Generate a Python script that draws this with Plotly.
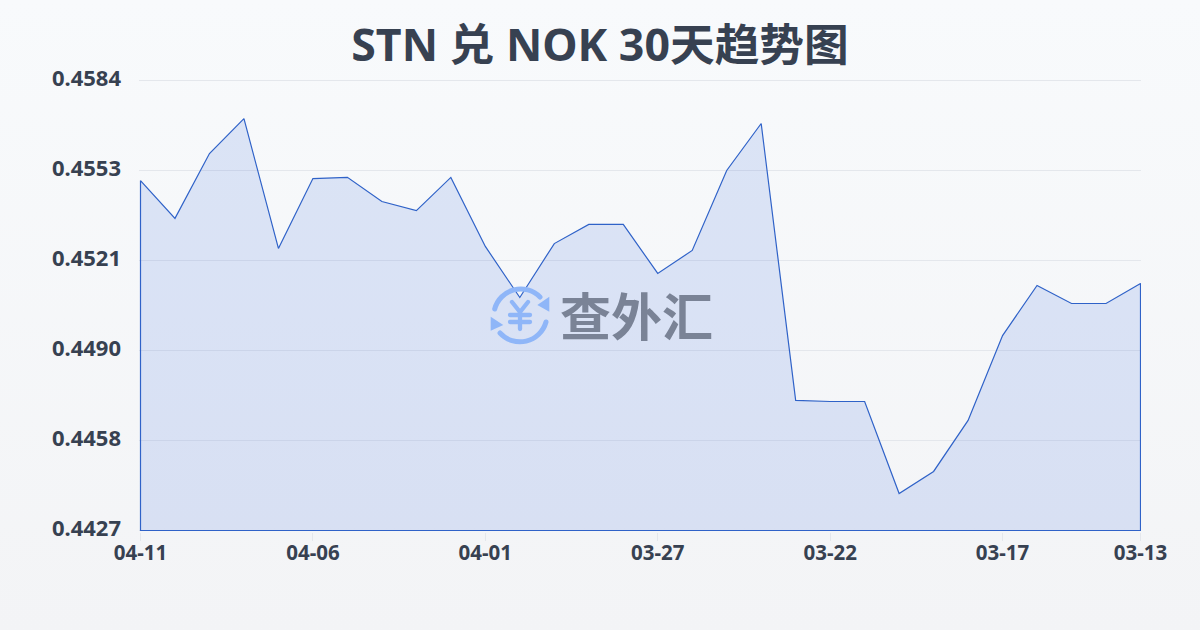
import base64
import plotly.graph_objects as go

dates = ["04-11","04-10","04-09","04-08","04-07","04-06","04-05","04-04","04-03","04-02",
         "04-01","03-31","03-30","03-29","03-28","03-27","03-26","03-25","03-24","03-23",
         "03-22","03-21","03-20","03-19","03-18","03-17","03-16","03-15","03-14","03-13"]
rates = [0.45491,0.45359,0.45585,0.45707,0.45254,0.45498,0.45502,0.45418,0.45386,0.45502,
         0.45261,0.45083,0.45271,0.45338,0.45338,0.45167,0.45247,0.45526,0.45690,0.44724,
         0.44720,0.44720,0.44399,0.44476,0.44654,0.44950,0.45125,0.45062,0.45062,0.45132]
y_labels = ["0.4427","0.4458","0.4490","0.4521","0.4553","0.4584"]
x_label_dates = ["04-11","04-06","04-01","03-27","03-22","03-17","03-13"]
title = "STN 兑 NOK 30天趋势图"
watermark = "查外汇"

Y_MIN, Y_MAX = 0.4427, 0.4584
TEXT = "#374151"
GRID = "#e4e7ec"
idx = list(range(len(dates)))
y_ticks = [Y_MIN + i * (Y_MAX - Y_MIN) / (len(y_labels) - 1) for i in range(len(y_labels))]
x_ticks = [dates.index(d) for d in x_label_dates]
# one unit of data per pixel; the axes run slightly past the data so the
# edge lines of the area land on a pixel centre and stay in range
px_x = (idx[-1] - idx[0]) / 1000
px_y = (Y_MAX - Y_MIN) / 450
PLOT_L, PLOT_T, PLOT_W, PLOT_H = 139, 79, 1002, 453

def paper_x(px):
    return (px - PLOT_L) / PLOT_W
def paper_y(py):
    return (PLOT_T + PLOT_H - py) / PLOT_H

logo_svg = ('<svg xmlns="http://www.w3.org/2000/svg" viewBox="0 0 64 64" width="64" height="64">'
            '<g fill="none" stroke="#8fb6f8" stroke-linecap="round">'
            '<path d="M6.7 26 A27 27 0 0 1 52 14" stroke-width="5"/>'
            '<path d="M58 39 A27 27 0 0 1 12 50" stroke-width="5"/>'
            '<path d="M24 19 L32 29 L40 19 M22 32 H42 M22 39 H42 M32 29 V46" stroke-width="4.3"/></g>'
            '<g fill="#8fb6f8"><path d="M61.3 13.7 L61.3 28.7 L49.3 22 Z"/>'
            '<path d="M2.7 33.7 L2.7 47.7 L15.3 42 Z"/></g></svg>')
def uri(s):
    return "data:image/svg+xml;base64," + base64.b64encode(s.encode()).decode()

fig = go.Figure()
fig.add_trace(go.Scatter(
    x=idx + [idx[-1], idx[0], idx[0]],
    y=rates + [Y_MIN, Y_MIN, rates[0]],
    mode="lines", fill="toself", fillcolor="rgba(59,110,220,0.15)",
    line=dict(color="#2f62c8", width=1.2), hoverinfo="skip", cliponaxis=False,
))
fig.update_layout(
    width=1200, height=630, autosize=False,
    margin=dict(l=PLOT_L, r=1200 - PLOT_L - PLOT_W, t=PLOT_T, b=630 - PLOT_T - PLOT_H),
    paper_bgcolor="rgba(0,0,0,0)", plot_bgcolor="rgba(0,0,0,0)",
    showlegend=False,
    title=dict(text=title, x=0.5, xanchor="center", y=0.928, yanchor="middle",
               font=dict(family="Noto Sans, Noto Sans CJK SC", size=44.7, color=TEXT, weight="bold")),
    xaxis=dict(range=[idx[0] - 1.5 * px_x, idx[-1] + 0.5 * px_x], tickmode="array", tickvals=x_ticks,
               ticktext=x_label_dates,
               showgrid=False, zeroline=False, showline=False, ticks="outside", ticklen=8,
               tickcolor=GRID, tickwidth=1, ticklabelstandoff=-6,
               tickfont=dict(family="Noto Sans", size=20.5, color=TEXT, weight="bold")),
    yaxis=dict(range=[Y_MIN - 1.5 * px_y, Y_MAX + 1.5 * px_y], tickmode="array", tickvals=y_ticks,
               ticktext=y_labels,
               showgrid=True, gridcolor=GRID, gridwidth=1, zeroline=False, showline=False,
               ticks="", ticklabelstandoff=17, ticklabelshift=-2,
               tickfont=dict(family="Noto Sans", size=22, color=TEXT, weight="bold")),
    images=[
        dict(source=uri(logo_svg), xref="paper", yref="paper", x=paper_x(488), y=paper_y(283),
             sizex=64 / PLOT_W, sizey=64 / PLOT_H, xanchor="left", yanchor="top", layer="above", sizing="stretch"),
    ],
    annotations=[dict(text=watermark, xref="paper", yref="paper", x=paper_x(636), y=paper_y(314),
                      xanchor="center", yanchor="middle", showarrow=False,
                      font=dict(family="Noto Sans CJK SC", size=51, color="#7a8396", weight="bold"))],
)
page_css = ("document.documentElement.style.height='100%';"
            "document.body.style.margin='0';document.body.style.overflow='hidden';"
            "document.body.style.height='630px';"
            "document.body.style.background='linear-gradient(180deg,#f8fafc 0%,#f3f4f6 100%)';")
fig.write_html("out.html", config={"displayModeBar": False}, post_script=page_css)
